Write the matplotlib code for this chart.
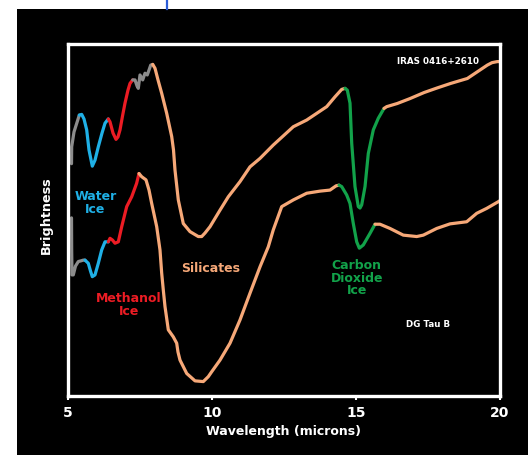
import numpy as np
import matplotlib
matplotlib.use("Agg")
import matplotlib.pyplot as plt
from matplotlib.patches import Rectangle
from matplotlib.lines import Line2D

# --- colours ---
GRAY = "#8c8c8c"
BLUE = "#1fb0e6"
RED = "#ec1c24"
ORANGE = "#f6a878"
GREEN = "#12a24a"

# --- upper spectrum: IRAS 0416+2610 (wavelength in microns, brightness arb.) ---
up_gray1_x = [5.122, 5.128, 5.208, 5.358, 5.392]
up_gray1_y = [66.0, 70.8, 75.0, 78.9, 79.8]
up_blue_x = [5.392, 5.476, 5.556, 5.649, 5.729, 5.844, 5.938, 6.052, 6.181, 6.285, 6.399]
up_blue_y = [79.8, 80.0, 78.7, 75.6, 69.9, 65.3, 67.0, 70.8, 74.7, 77.5, 78.7]
up_red_x = [6.399, 6.458, 6.563, 6.667, 6.736, 6.806, 6.892, 6.979, 7.083, 7.153, 7.247]
up_red_y = [78.7, 77.9, 74.7, 72.9, 73.6, 75.6, 79.5, 83.2, 86.9, 88.8, 89.8]
up_gray2_x = [7.247, 7.326, 7.396, 7.441, 7.500, 7.594, 7.674, 7.753, 7.813, 7.872, 7.941]
up_gray2_y = [89.8, 89.8, 88.1, 87.4, 91.2, 89.8, 91.7, 91.2, 92.6, 94.0, 94.2]
up_sil_x = [7.941, 8.021, 8.125, 8.253, 8.427, 8.601, 8.663, 8.715, 8.830, 9.003, 9.236,
            9.524, 9.642, 9.757, 9.931, 10.278, 10.566, 10.972, 11.319, 11.667, 12.128,
            12.823, 13.288, 13.983, 14.271, 14.503, 14.618]
up_sil_y = [94.2, 93.1, 89.8, 86.0, 80.3, 73.7, 69.9, 64.2, 55.7, 49.0, 46.7,
            45.3, 45.3, 46.3, 48.1, 52.8, 56.6, 60.9, 65.1, 67.5, 71.3,
            76.5, 78.4, 82.2, 85.0, 87.1, 87.4]
up_co2_x = [14.618, 14.698, 14.792, 14.851, 14.965, 15.080, 15.139, 15.198, 15.313,
            15.427, 15.601, 15.774, 15.972]
up_co2_y = [87.4, 86.9, 83.2, 71.8, 59.5, 53.8, 53.4, 54.3, 59.5, 68.9, 75.6, 78.9, 81.7]
up_tail_x = [15.972, 16.066, 16.434, 16.875, 17.361, 17.813, 18.288, 18.865, 19.212,
             19.559, 19.722, 19.906, 20.0]
up_tail_y = [81.7, 82.2, 83.1, 84.5, 86.2, 87.5, 88.8, 90.2, 92.1, 94.0, 94.7, 95.0, 95.0]

# --- lower spectrum: DG Tau B ---
lo_gray_x = [5.122, 5.128, 5.139, 5.184, 5.260, 5.358, 5.451, 5.531, 5.590]
lo_gray_y = [50.6, 41.5, 34.4, 34.4, 36.9, 38.2, 38.4, 38.6, 38.6]
lo_blue_x = [5.590, 5.705, 5.781, 5.844, 5.938, 6.052, 6.170, 6.285, 6.399]
lo_blue_y = [38.6, 37.7, 35.5, 33.9, 34.4, 37.7, 41.5, 43.8, 43.8]
lo_red_x = [6.399, 6.458, 6.545, 6.632, 6.747, 6.865, 7.038, 7.212, 7.382, 7.465]
lo_red_y = [43.8, 44.8, 44.3, 43.4, 43.8, 48.1, 53.8, 56.6, 60.4, 63.2]
lo_sil_x = [7.465, 7.559, 7.708, 7.813, 7.906, 8.080, 8.194, 8.253, 8.309, 8.368, 8.483,
            8.656, 8.774, 8.819, 8.889, 9.122, 9.410, 9.698, 9.872, 9.990, 10.278,
            10.625, 10.972, 11.319, 11.667, 11.955, 12.128, 12.420, 12.823, 13.288,
            13.750, 14.097, 14.306, 14.410]
lo_sil_y = [63.2, 62.3, 61.4, 58.5, 54.7, 48.1, 41.5, 34.9, 30.1, 25.4, 18.8,
            16.8, 15.0, 12.5, 10.2, 6.4, 4.3, 4.1, 5.5, 6.9, 10.2,
            15.0, 21.6, 29.2, 36.7, 42.4, 47.2, 53.8, 55.7, 57.6,
            58.2, 58.5, 59.7, 59.9]
lo_co2_x = [14.410, 14.503, 14.677, 14.792, 14.906, 15.024, 15.115, 15.253, 15.486, 15.660]
lo_co2_y = [59.9, 59.5, 57.1, 54.7, 49.0, 43.8, 42.0, 42.9, 46.2, 48.8]
lo_tail_x = [15.660, 15.833, 16.181, 16.642, 17.108, 17.337, 17.802, 18.264, 18.844,
             19.191, 19.538, 19.941, 20.0]
lo_tail_y = [48.8, 48.8, 47.6, 45.7, 45.3, 45.7, 47.6, 48.9, 49.5, 51.9, 53.3, 55.2, 55.5]

x_ticks = [5, 10, 15, 20]

segments = [
    (up_gray1_x, up_gray1_y, GRAY), (up_blue_x, up_blue_y, BLUE),
    (up_red_x, up_red_y, RED), (up_gray2_x, up_gray2_y, GRAY),
    (up_sil_x, up_sil_y, ORANGE), (up_co2_x, up_co2_y, GREEN),
    (up_tail_x, up_tail_y, ORANGE),
    (lo_gray_x, lo_gray_y, GRAY), (lo_blue_x, lo_blue_y, BLUE),
    (lo_red_x, lo_red_y, RED), (lo_sil_x, lo_sil_y, ORANGE),
    (lo_co2_x, lo_co2_y, GREEN), (lo_tail_x, lo_tail_y, ORANGE),
]

W, H = 528, 455
fig = plt.figure(figsize=(W / 100, H / 100), dpi=100, facecolor="white")

# black panel behind everything
fig.patches.append(Rectangle((17 / W, 0), 1 - 17 / W, 1 - 9 / H,
                             transform=fig.transFigure, facecolor="black",
                             edgecolor="none", zorder=-5))
# small blue mark at the top
fig.lines.append(Line2D([167 / W, 167 / W], [1, 1 - 9 / H], transform=fig.transFigure,
                        color="#2a5bd7", linewidth=1.6))

ax = fig.add_axes([68 / W, (H - 396) / H, (500 - 68) / W, (396 - 44) / H])
ax.set_zorder(2)
ax.set_facecolor("black")
for x, y, c in segments:
    ax.plot(x, y, color=c, linewidth=2.3, solid_capstyle="round",
            solid_joinstyle="round")

ax.set_xlim(5, 20)
ax.set_ylim(0, 100)
for s in ax.spines.values():
    s.set_color("white")
    s.set_linewidth(2.4)
ax.set_yticks([])
ax.set_xticks(x_ticks)
ax.set_xticklabels([str(t) for t in x_ticks])
ax.tick_params(axis="x", colors="white", length=3, width=1.5, pad=4,
               labelsize=10)
for lab in ax.get_xticklabels():
    lab.set_fontweight("bold")

txt = dict(ha="center", va="center", fontweight="bold", linespacing=0.95)
ax.text(17.85, 94.9, "IRAS 0416+2610", color="white", fontsize=6.3, **txt)
ax.text(17.5, 20.2, "DG Tau B", color="white", fontsize=6.3, **txt)
ax.text(5.95, 54.8, "Water\nIce", color=BLUE, fontsize=9, **txt)
ax.text(7.12, 25.9, "Methanol\nIce", color=RED, fontsize=9, **txt)
ax.text(9.95, 36.1, "Silicates", color=ORANGE, fontsize=9, **txt)
ax.text(15.03, 33.5, "Carbon\nDioxide\nIce", color=GREEN, fontsize=9, **txt)

fig.text(46 / W, 1 - 215 / H, "Brightness", color="white", fontsize=9.2,
         fontweight="bold", rotation=90, ha="center", va="center")
fig.text(284 / W, 1 - 432 / H, "Wavelength (microns)", color="white",
         fontsize=9, fontweight="bold", ha="center", va="center")

fig.savefig("out.png", dpi=100, facecolor="white")
